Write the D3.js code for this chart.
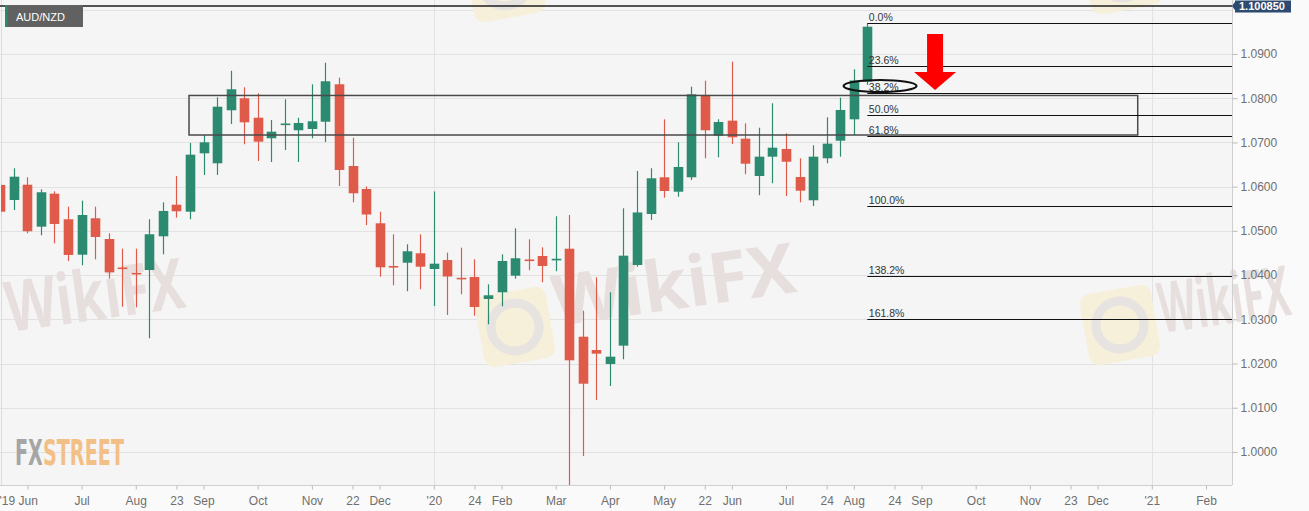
<!DOCTYPE html>
<html><head><meta charset="utf-8">
<script src="https://cdn.jsdelivr.net/npm/d3@7"></script>
<style>
body{margin:0;background:#fafafa;}
svg{display:block;font-family:"Liberation Sans",Arial,sans-serif;}
</style>
</head><body><svg id="c" width="1309" height="511"></svg>
<script>
// ---------------- DATA ----------------
const symbol = "AUD/NZD";
const firstWeek = "2019-05-19"; // week of the first (partly visible) candle
const opens = [1.06038,1.05698,1.06044,1.05095,1.05841,1.05262,1.04461,1.05285,1.04816,1.04172,1.04050,1.04115,1.04877,1.05592,1.05434,1.06754,1.06528,1.07727,1.07998,1.07559,1.07094,1.07406,1.07275,1.07304,1.07469,1.08315,1.06467,1.05947,1.05171,1.04206,1.04280,1.04493,1.04138,1.04341,1.03939,1.03957,1.03460,1.03611,1.03986,1.04353,1.04432,1.04346,1.04597,1.02607,1.02306,1.01990,1.02404,1.04228,1.05382,1.06212,1.05886,1.06212,1.08050,1.07152,1.07492,1.07085,1.06241,1.06678,1.06852,1.06218,1.05692,1.06641,1.07039,1.07523,1.08374];
const highs = [1.06100,1.06415,1.06212,1.05940,1.05895,1.05547,1.05683,1.05547,1.04945,1.04597,1.04597,1.05262,1.05646,1.06241,1.06987,1.07168,1.08021,1.08622,1.08247,1.08111,1.07507,1.07976,1.07559,1.08315,1.08803,1.08464,1.07107,1.06004,1.05434,1.04923,1.04697,1.04923,1.05891,1.04507,1.04620,1.04357,1.03792,1.04470,1.05058,1.04810,1.04629,1.05330,1.05359,1.03195,1.03950,1.03611,1.05511,1.06354,1.06415,1.07523,1.07003,1.08261,1.08396,1.07523,1.08826,1.07433,1.07333,1.07885,1.07207,1.06641,1.06935,1.07569,1.08012,1.08654,1.09694];
const lows = [1.05300,1.05472,1.04945,1.04900,1.04719,1.04319,1.04222,1.04357,1.03919,1.03285,1.03272,1.02571,1.04470,1.05298,1.05262,1.06264,1.06264,1.07417,1.06958,1.06580,1.06558,1.06829,1.06558,1.07094,1.07010,1.06015,1.05646,1.05129,1.03964,1.03769,1.03634,1.03679,1.03301,1.03098,1.03566,1.03082,1.02887,1.03295,1.03919,1.04109,1.03837,1.04086,0.99253,0.99909,1.01176,1.01492,1.02096,1.04190,1.05246,1.05750,1.05773,1.06151,1.06641,1.06664,1.06965,1.06280,1.05805,1.06076,1.05789,1.05646,1.05563,1.06528,1.06678,1.07168,1.08300];
const closes = [1.05434,1.06225,1.04991,1.05873,1.05156,1.04455,1.05359,1.04862,1.04063,1.04149,1.04025,1.04923,1.05450,1.05443,1.06723,1.07003,1.07808,1.08202,1.07455,1.07017,1.07243,1.07428,1.07440,1.07478,1.08383,1.06377,1.05850,1.05370,1.04176,1.04183,1.04538,1.04190,1.04258,1.03968,1.03916,1.03279,1.03543,1.04319,1.04380,1.04330,1.04206,1.04369,1.02073,1.01544,1.02223,1.02155,1.04439,1.05416,1.06189,1.05902,1.06445,1.08089,1.07275,1.07462,1.07116,1.06519,1.06678,1.06881,1.06564,1.05909,1.06678,1.06972,1.07734,1.08401,1.09617];

const yTicks = [1.00,1.01,1.02,1.03,1.04,1.05,1.06,1.07,1.08,1.09];
const gridPrices = [1.00,1.01,1.02,1.03,1.04,1.05,1.06,1.07,1.08,1.09,1.10];
const xTickWeeks  = [2,6,10,13,15,19,23,26,28,32,35,37,41,45,49,52,54,58,61,63,66,68,72,76,79,81,85,89]; // weeks after firstWeek
const xTickLabels = ["'19 Jun","Jul","Aug","23","Sep","Oct","Nov","22","Dec","'20","24","Feb","Mar","Apr","May","22","Jun","Jul","24","Aug","24","Sep","Oct","Nov","23","Dec","'21","Feb"];
const yearWeeks = [32,85];

const lastPrice = 1.100850;
const fibHigh = 1.09694, fibLow = 1.05563;
const fibRatios = [0,0.236,0.382,0.5,0.618,1,1.382,1.618];
const fibLabels = ["0.0%","23.6%","38.2%","50.0%","61.8%","100.0%","138.2%","161.8%"];
const fibStartWeek = 64;
const zoneTop = 1.08062, zoneBottom = 1.07168, zoneStartWeek = 13.93, zoneEndWeek = 83.96;
const ellipseWeek = 64.94, ellipsePrice = 1.08276;
const arrowWeek = 69.0, arrowTopPrice = 1.09452, arrowTipPrice = 1.08186;

// ---------------- LAYOUT ----------------
const W = 1309, H = 511;
const plotL = 0, plotR = 1232, plotT = 0, plotB = 485;
const svg = d3.select("#c");
const parse = d3.utcParse("%Y-%m-%d");
const w0 = parse(firstWeek);
const wkT = i => new Date(w0.getTime() + i*7*864e5);

const x = d3.scaleUtc().domain([wkT(2), wkT(89)]).range([27.4, 1206]);
const y = d3.scaleLinear().domain([0.99253, 1.10221]).range([plotB, plotT]);

// backgrounds
svg.append("rect").attr("x",0).attr("y",0).attr("width",W).attr("height",H).attr("fill","#fafafa");
svg.append("rect").attr("x",plotL).attr("y",plotT).attr("width",plotR-plotL).attr("height",plotB-plotT).attr("fill","#f5f5f5");

const defs = svg.append("defs");
defs.append("clipPath").attr("id","plot").append("rect")
  .attr("x",plotL+1).attr("y",plotT).attr("width",plotR-plotL-1).attr("height",plotB-plotT);
defs.append("clipPath").attr("id","full").append("rect")
  .attr("x",0).attr("y",0).attr("width",W).attr("height",plotB);
const lg = defs.append("linearGradient").attr("id","fxs").attr("gradientUnits","userSpaceOnUse")
  .attr("x1",15).attr("x2",124).attr("y1",0).attr("y2",0);
lg.append("stop").attr("offset","24.6%").attr("stop-color","#a5a5a5");
lg.append("stop").attr("offset","24.6%").attr("stop-color","#f2bf86");

// grid
const grid = svg.append("g");
grid.selectAll("line.h").data(gridPrices).join("line")
  .attr("x1",plotL).attr("x2",plotR).attr("y1",d=>Math.round(y(d))+0.5).attr("y2",d=>Math.round(y(d))+0.5)
  .attr("stroke","#e2e2e2").attr("stroke-width",1);
grid.selectAll("line.v").data(yearWeeks).join("line")
  .attr("y1",plotT).attr("y2",plotB).attr("x1",d=>Math.round(x(wkT(d)))+0.5).attr("x2",d=>Math.round(x(wkT(d)))+0.5)
  .attr("stroke","#e2e2e2");
svg.append("line").attr("x1",1.5).attr("x2",1.5).attr("y1",0).attr("y2",plotB).attr("stroke","#dddddd");

// watermarks
const wm = svg.append("g").attr("clip-path","url(#full)");
function icon(cx, cy){
  const g = wm.append("g").attr("transform",`translate(${cx},${cy}) rotate(-10)`);
  g.append("rect").attr("x",-36).attr("y",-36).attr("width",72).attr("height",72).attr("rx",10).attr("fill","#f6efd9");
  g.append("circle").attr("r",24).attr("fill","none").attr("stroke","#e6e3e1").attr("stroke-width",9);
}
icon(515,327); icon(1120,325); icon(505,-18); icon(1122,-26);
[[9,332,180],[556,326,245],[1162,333,132]].forEach(([tx,ty,len])=>{
  wm.append("text").attr("x",tx).attr("y",ty)
    .attr("transform",`rotate(-8,${tx},${ty})`)
    .attr("font-family","Noto Sans, sans-serif").attr("font-weight","bold").attr("font-size",70)
    .attr("textLength",len).attr("lengthAdjust","spacingAndGlyphs")
    .attr("fill","#e6dfdd").text("WikiFX");
});

// candles
const GREEN = "#2b8a6f", RED = "#df5a48";
const candles = opens.map((o,k)=>({t:wkT(k), o, h:highs[k], l:lows[k], c:closes[k]}));
const cg = svg.append("g").attr("clip-path","url(#plot)");
const bw = 9.6;
cg.selectAll("line.wick").data(candles).join("line")
  .attr("x1",d=>Math.round(x(d.t))+0.5).attr("x2",d=>Math.round(x(d.t))+0.5)
  .attr("y1",d=>y(d.h)).attr("y2",d=>y(d.l))
  .attr("stroke",d=>d.c>=d.o?GREEN:RED).attr("stroke-width",1.2);
cg.selectAll("rect.body").data(candles).join("rect")
  .attr("x",d=>Math.round(x(d.t))+0.5-bw/2)
  .attr("width",bw)
  .attr("y",d=>y(Math.max(d.o,d.c)))
  .attr("height",d=>Math.max(1.6, Math.abs(y(d.o)-y(d.c))))
  .attr("fill",d=>d.c>=d.o?GREEN:RED);

// zone rectangle
svg.append("rect")
  .attr("x",x(wkT(zoneStartWeek))).attr("y",y(zoneTop))
  .attr("width",x(wkT(zoneEndWeek))-x(wkT(zoneStartWeek)))
  .attr("height",y(zoneBottom)-y(zoneTop))
  .attr("fill","none").attr("stroke","#4a4a4a").attr("stroke-width",1.5);

// fibonacci
const fx0 = x(wkT(fibStartWeek));
const fg = svg.append("g");
fibRatios.forEach((r,k)=>{
  const p = fibHigh - r*(fibHigh-fibLow);
  const yy = Math.round(y(p))+0.5;
  fg.append("line").attr("x1",fx0).attr("x2",plotR).attr("y1",yy).attr("y2",yy)
    .attr("stroke","#111").attr("stroke-width",1.1);
  fg.append("text").attr("x",fx0+1.5).attr("y",yy-2.5)
    .attr("font-size",10.5).attr("fill","#333").text(fibLabels[k]);
});

// ellipse annotation
svg.append("ellipse").attr("cx",x(wkT(ellipseWeek))).attr("cy",y(ellipsePrice))
  .attr("rx",36.5).attr("ry",6).attr("fill","none").attr("stroke","#111").attr("stroke-width",2.2);

// red arrow
{
  const ax = x(wkT(arrowWeek)), at = y(arrowTopPrice), tip = y(arrowTipPrice);
  const hh = 18, sw = 8, hw = 21;
  svg.append("path").attr("d",
    `M${ax-sw},${at} L${ax+sw},${at} L${ax+sw},${tip-hh} L${ax+hw},${tip-hh} L${ax},${tip} L${ax-hw},${tip-hh} L${ax-sw},${tip-hh} Z`)
    .attr("fill","#ff0000");
}

// last price line
svg.append("line").attr("x1",0).attr("x2",plotR).attr("y1",y(lastPrice)).attr("y2",y(lastPrice))
  .attr("stroke","#1e1e1e").attr("stroke-width",1.6);

// borders
svg.append("line").attr("x1",plotR+0.5).attr("x2",plotR+0.5).attr("y1",0).attr("y2",plotB).attr("stroke","#cfcfcf");
svg.append("line").attr("x1",0).attr("x2",plotR).attr("y1",plotB+0.5).attr("y2",plotB+0.5).attr("stroke","#cfcfcf");

// y axis
const ya = svg.append("g").attr("transform",`translate(${plotR+0.5},0)`)
  .call(d3.axisRight(y).tickValues(yTicks).tickFormat(d3.format(".4f")).tickSize(5).tickPadding(3));
ya.select(".domain").remove();
ya.selectAll("line").attr("stroke","#bbb");
ya.selectAll("text").attr("fill","#6f6f6f").attr("font-size",12).attr("font-family","Liberation Sans, Arial, sans-serif");

// x axis
const xa = svg.append("g").attr("transform",`translate(0,${plotB+0.5})`)
  .call(d3.axisBottom(x).tickValues(xTickWeeks.map(wkT)).tickFormat((d,j)=>xTickLabels[j]).tickSize(4).tickPadding(7));
xa.select(".domain").remove();
xa.selectAll("line").attr("stroke","#bbb");
xa.selectAll("text").attr("fill","#6f6f6f").attr("font-size",12).attr("font-family","Liberation Sans, Arial, sans-serif");
xa.selectAll("g.tick").filter((d,j)=>j===0).select("text").attr("text-anchor","start").attr("x",-x(wkT(2))-1);

// last price label
{
  const yy = y(lastPrice);
  svg.append("path").attr("d",`M${plotR},${yy} L${plotR+4},${yy-5.5} L${plotR+4},${yy+5.5} Z`).attr("fill","#2d4a70");
  svg.append("rect").attr("x",plotR+3).attr("y",yy-5.5).attr("width",56).attr("height",12).attr("fill","#2d4a70");
  svg.append("text").attr("x",plotR+7).attr("y",yy+4.3).attr("fill","#fff").attr("font-weight","bold")
    .attr("font-size",11).text(lastPrice.toFixed(6));
}

// symbol label
svg.append("rect").attr("x",5).attr("y",5).attr("width",78).attr("height",22).attr("fill","#616161");
svg.append("rect").attr("x",5).attr("y",5).attr("width",2.5).attr("height",22).attr("fill","#2b8a6f");
svg.append("text").attr("x",16).attr("y",20.5).attr("fill","#fff").attr("font-size",11).text(symbol);

// FXStreet logo (one text; two colours via gradient)
svg.append("text").attr("x",15).attr("y",465)
  .attr("font-family","DejaVu Sans Condensed, DejaVu Sans, sans-serif")
  .attr("font-weight","bold").attr("font-size",35)
  .attr("textLength",109).attr("lengthAdjust","spacingAndGlyphs")
  .attr("fill","url(#fxs)").text("FXSTREET");
</script>
</body></html>
